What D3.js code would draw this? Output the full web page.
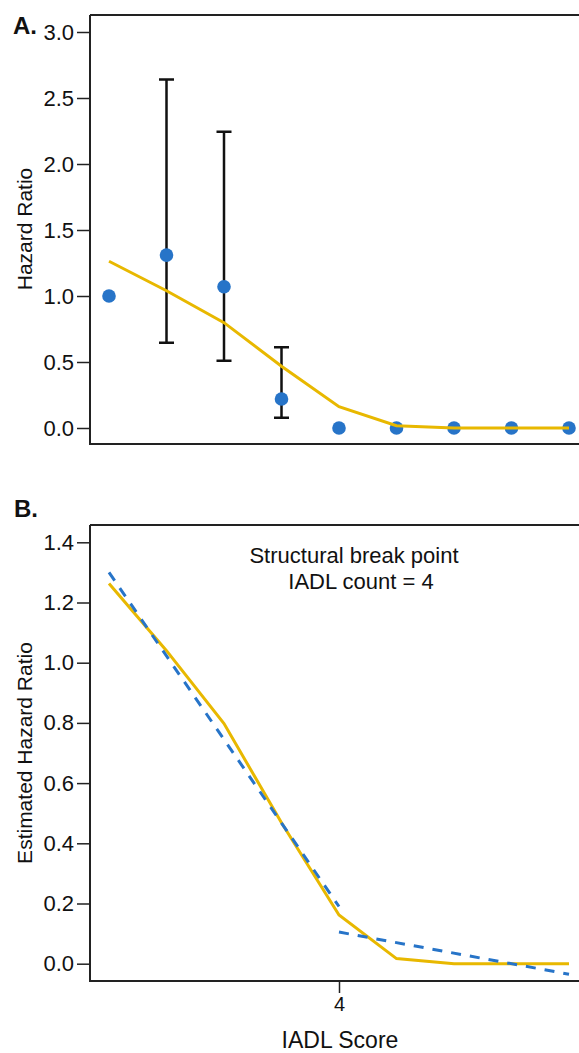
<!DOCTYPE html>
<html>
<head>
<meta charset="utf-8">
<script src="https://d3js.org/d3.v7.min.js"></script>
<style>
  body { margin: 0; background: #fff; }
  text { font-family: "Liberation Sans", Arial, sans-serif; fill: #111; }
</style>
</head>
<body>
<script>
// IADL score 0..8
var scores = [0, 1, 2, 3, 4, 5, 6, 7, 8];

// panel A: observed hazard ratios with 95% CI
var hr = [1.0, 1.31, 1.07, 0.22, 0.0, 0.0, 0.0, 0.0, 0.0];
var ciLow = [null, 0.645, 0.51, 0.078, null, null, null, null, null];
var ciHigh = [null, 2.64, 2.245, 0.612, null, null, null, null, null];

// fitted (smoothed) hazard ratio, used in both panels
var fitted = [1.263, 1.04, 0.798, 0.468, 0.162, 0.017, 0.0, 0.0, 0.0];

// panel B: piecewise linear fits either side of the break point
var seg1 = [{x: 0, y: 1.30}, {x: 4, y: 0.19}];
var seg2 = [{x: 4, y: 0.105}, {x: 8, y: -0.035}];

var ticksA = [0, 0.5, 1.0, 1.5, 2.0, 2.5, 3.0];
var ticksB = [0, 0.2, 0.4, 0.6, 0.8, 1.0, 1.2, 1.4];
var ticksX = [4];

var W = 579, H = 1053;
var yellow = "#E8B800", blue = "#2774C8";
var font = "Liberation Sans, Arial, sans-serif";

var svg = d3.select("body").append("svg")
  .attr("width", W).attr("height", H);

var x = d3.scaleLinear().domain([0, 8]).range([109, 569]);

function styleAxis(g, size) {
  g.select(".domain").remove();
  g.selectAll("line").attr("stroke", "#222").attr("stroke-width", 1.5);
  g.selectAll("text").style("font-size", size + "px").attr("fill", "#111")
    .style("font-family", font);
}

// ---------- panel A ----------
var yA = d3.scaleLinear().domain([0, 3]).range([428, 32]);
var gA = svg.append("g");

gA.append("path")
  .attr("d", "M90,15H585M90,15V444H585")
  .attr("fill", "none").attr("stroke", "#222").attr("stroke-width", 2);

gA.append("g")
  .attr("transform", "translate(90,0)")
  .call(d3.axisLeft(yA).tickValues(ticksA).tickFormat(d3.format(".1f")).tickSize(13).tickPadding(3))
  .call(function(g) { styleAxis(g, 22); });

gA.append("text").attr("x", 13).attr("y", 34)
  .style("font-size", "24px").style("font-weight", "bold").text("A.");

gA.append("text")
  .attr("transform", "translate(32,229) rotate(-90)")
  .attr("text-anchor", "middle").style("font-size", "21px")
  .text("Hazard Ratio");

var bars = scores.filter(function(d, i) { return ciLow[i] !== null; });
var cap = 7.5;
bars.forEach(function(d) {
  var cx = x(d);
  gA.append("path")
    .attr("d", "M" + (cx - cap) + "," + yA(ciHigh[d]) + "H" + (cx + cap) +
               "M" + cx + "," + yA(ciHigh[d]) + "V" + yA(ciLow[d]) +
               "M" + (cx - cap) + "," + yA(ciLow[d]) + "H" + (cx + cap))
    .attr("fill", "none").attr("stroke", "#111").attr("stroke-width", 2.5);
});

gA.selectAll("circle").data(scores).enter().append("circle")
  .attr("cx", function(d) { return x(d); })
  .attr("cy", function(d, i) { return yA(hr[i]); })
  .attr("r", 6.8).attr("fill", blue);

var lineA = d3.line()
  .x(function(d) { return x(d); })
  .y(function(d, i) { return yA(fitted[i]); });

gA.append("path").datum(scores)
  .attr("d", lineA)
  .attr("fill", "none").attr("stroke", yellow).attr("stroke-width", 3);

// ---------- panel B ----------
var yB = d3.scaleLinear().domain([0, 1.4]).range([963.7, 542.3]);
var gB = svg.append("g");

gB.append("path")
  .attr("d", "M90,525H585M90,525V981H585")
  .attr("fill", "none").attr("stroke", "#222").attr("stroke-width", 2);

gB.append("g")
  .attr("transform", "translate(90,0)")
  .call(d3.axisLeft(yB).tickValues(ticksB).tickFormat(d3.format(".1f")).tickSize(13).tickPadding(3))
  .call(function(g) { styleAxis(g, 22); });

gB.append("g")
  .attr("transform", "translate(0,981)")
  .call(d3.axisBottom(x).tickValues(ticksX).tickFormat(d3.format("d")).tickSize(12).tickPadding(4))
  .call(function(g) { styleAxis(g, 20); });

gB.append("text").attr("x", 14).attr("y", 517)
  .style("font-size", "24px").style("font-weight", "bold").text("B.");

gB.append("text")
  .attr("transform", "translate(32,753) rotate(-90)")
  .attr("text-anchor", "middle").style("font-size", "21px")
  .text("Estimated Hazard Ratio");

gB.append("text").attr("x", 340).attr("y", 1048)
  .attr("text-anchor", "middle").style("font-size", "23px")
  .text("IADL Score");

gB.append("text").attr("x", 354).attr("y", 563)
  .attr("text-anchor", "middle").style("font-size", "22px")
  .text("Structural break point");
gB.append("text").attr("x", 361).attr("y", 589)
  .attr("text-anchor", "middle").style("font-size", "22px")
  .text("IADL count = 4");

var lineB = d3.line()
  .x(function(d) { return x(d); })
  .y(function(d, i) { return yB(fitted[i]); });

gB.append("path").datum(scores)
  .attr("d", lineB)
  .attr("fill", "none").attr("stroke", yellow).attr("stroke-width", 3);

var segLine = d3.line()
  .x(function(d) { return x(d.x); })
  .y(function(d) { return yB(d.y); });

[seg1, seg2].forEach(function(s) {
  gB.append("path").datum(s)
    .attr("d", segLine)
    .attr("fill", "none").attr("stroke", blue).attr("stroke-width", 3)
    .attr("stroke-dasharray", "10,9");
});
</script>
</body>
</html>
